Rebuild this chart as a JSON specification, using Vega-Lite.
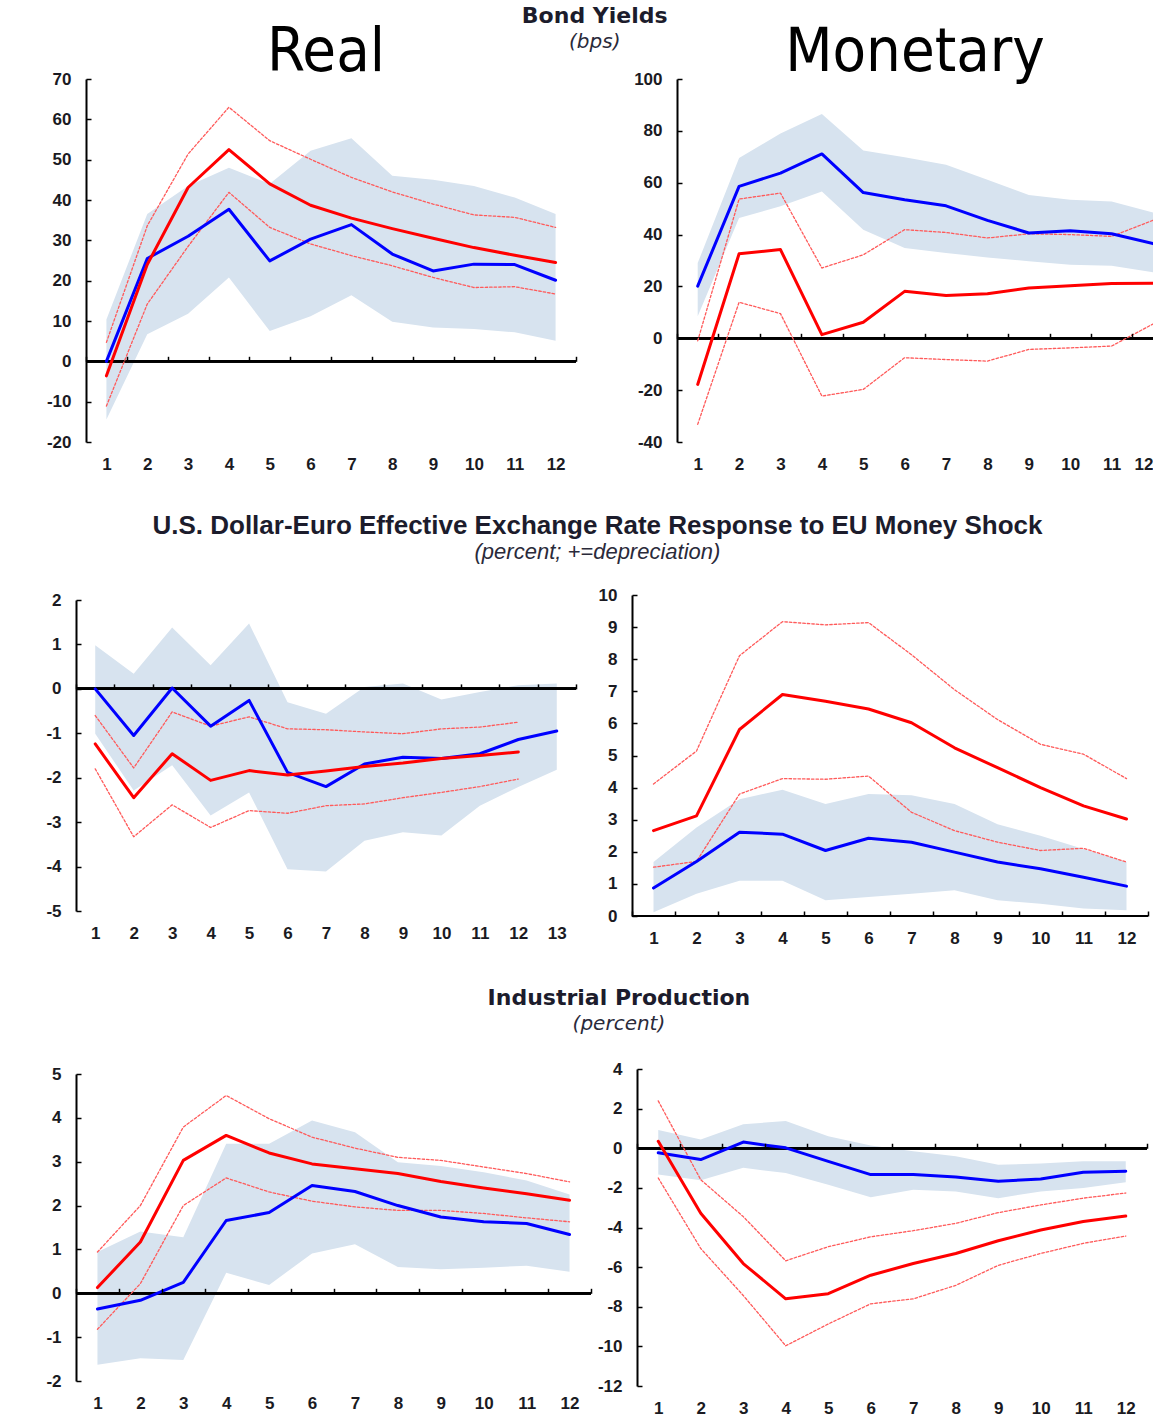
{
  "$schema": "https://vega.github.io/schema/vega-lite/v6.json",
  "background": "white",
  "padding": {"left": 45, "top": 5, "right": 0, "bottom": 0},
  "config": {
    "view": {"stroke": null},
    "axis": {"labelFont": "Liberation Sans", "labelFontSize": 17, "labelFontWeight": "bold", "labelColor": "#1a1a22", "grid": false, "domainColor": "#000000", "tickColor": "#000000", "domainWidth": 2, "tickWidth": 1.5, "title": null, "labelOverlap": false},
    "line": {"strokeCap": "round", "strokeJoin": "round"}
  },
  "datasets": {
    "p1": [
      {"h": 1, "blo": -14.4, "bhi": 10.4, "b": 0, "r": -3.6, "rlo": -11.1, "rhi": 4.7},
      {"h": 2, "blo": 6.7, "bhi": 36.5, "b": 25.5, "r": 24, "rlo": 14.2, "rhi": 33.6},
      {"h": 3, "blo": 11.8, "bhi": 43.5, "b": 31, "r": 43.1, "rlo": 28.5, "rhi": 51.4},
      {"h": 4, "blo": 20.8, "bhi": 48, "b": 37.7, "r": 52.5, "rlo": 41.9, "rhi": 63},
      {"h": 5, "blo": 7.5, "bhi": 44, "b": 24.9, "r": 44, "rlo": 33.2, "rhi": 54.7},
      {"h": 6, "blo": 11.2, "bhi": 52.2, "b": 30.3, "r": 38.7, "rlo": 29.1, "rhi": 50.1},
      {"h": 7, "blo": 16.4, "bhi": 55.3, "b": 33.9, "r": 35.5, "rlo": 26.2, "rhi": 45.6},
      {"h": 8, "blo": 9.8, "bhi": 46, "b": 26.6, "r": 32.9, "rlo": 23.7, "rhi": 42},
      {"h": 9, "blo": 8.4, "bhi": 45, "b": 22.4, "r": 30.5, "rlo": 20.8, "rhi": 39},
      {"h": 10, "blo": 8, "bhi": 43.5, "b": 24.1, "r": 28.2, "rlo": 18.3, "rhi": 36.3},
      {"h": 11, "blo": 7.2, "bhi": 40.6, "b": 24, "r": 26.3, "rlo": 18.5, "rhi": 35.7},
      {"h": 12, "blo": 5.1, "bhi": 36.5, "b": 20.1, "r": 24.5, "rlo": 16.7, "rhi": 33.2}
    ],
    "p2": [
      {"h": 1, "blo": 8.5, "bhi": 29, "b": 20.1, "r": -17.8, "rlo": -33.2, "rhi": -1},
      {"h": 2, "blo": 46.4, "bhi": 69.5, "b": 58.6, "r": 32.6, "rlo": 13.9, "rhi": 53.7},
      {"h": 3, "blo": 50.9, "bhi": 79, "b": 63.7, "r": 34.2, "rlo": 9.5, "rhi": 56},
      {"h": 4, "blo": 56.6, "bhi": 86.5, "b": 71.1, "r": 1.4, "rlo": -22.3, "rhi": 27.1},
      {"h": 5, "blo": 41.9, "bhi": 72.4, "b": 56.2, "r": 6.2, "rlo": -19.7, "rhi": 32.2},
      {"h": 6, "blo": 34.8, "bhi": 69.8, "b": 53.4, "r": 18.1, "rlo": -7.5, "rhi": 41.9},
      {"h": 7, "blo": 32.9, "bhi": 66.9, "b": 51.1, "r": 16.5, "rlo": -8.2, "rhi": 40.8},
      {"h": 8, "blo": 31.2, "bhi": 61.1, "b": 45.5, "r": 17.2, "rlo": -8.8, "rhi": 38.7},
      {"h": 9, "blo": 29.7, "bhi": 55.3, "b": 40.6, "r": 19.4, "rlo": -4.3, "rhi": 40.3},
      {"h": 10, "blo": 28.4, "bhi": 53.4, "b": 41.5, "r": 20.3, "rlo": -3.7, "rhi": 40},
      {"h": 11, "blo": 28, "bhi": 52.8, "b": 40.3, "r": 21.1, "rlo": -3, "rhi": 39.3},
      {"h": 12, "blo": 25.5, "bhi": 48.5, "b": 36.5, "r": 21.2, "rlo": 5.5, "rhi": 45.5}
    ],
    "p3": [
      {"h": 1, "blo": -1.01, "bhi": 0.98, "b": 0, "r": -1.24, "rlo": -1.8, "rhi": -0.6},
      {"h": 2, "blo": -2.29, "bhi": 0.34, "b": -1.05, "r": -2.45, "rlo": -3.33, "rhi": -1.78},
      {"h": 3, "blo": -1.72, "bhi": 1.38, "b": 0.02, "r": -1.46, "rlo": -2.61, "rhi": -0.52},
      {"h": 4, "blo": -2.85, "bhi": 0.53, "b": -0.84, "r": -2.06, "rlo": -3.12, "rhi": -0.84},
      {"h": 5, "blo": -2.33, "bhi": 1.47, "b": -0.26, "r": -1.84, "rlo": -2.74, "rhi": -0.63},
      {"h": 6, "blo": -4.06, "bhi": -0.3, "b": -1.88, "r": -1.94, "rlo": -2.8, "rhi": -0.9},
      {"h": 7, "blo": -4.11, "bhi": -0.56, "b": -2.2, "r": -1.85, "rlo": -2.63, "rhi": -0.92},
      {"h": 8, "blo": -3.42, "bhi": 0.04, "b": -1.69, "r": -1.75, "rlo": -2.59, "rhi": -0.97},
      {"h": 9, "blo": -3.23, "bhi": 0.12, "b": -1.54, "r": -1.67, "rlo": -2.45, "rhi": -1.01},
      {"h": 10, "blo": -3.3, "bhi": -0.24, "b": -1.57, "r": -1.57, "rlo": -2.33, "rhi": -0.9},
      {"h": 11, "blo": -2.63, "bhi": -0.07, "b": -1.46, "r": -1.5, "rlo": -2.2, "rhi": -0.86},
      {"h": 12, "blo": -2.21, "bhi": 0.08, "b": -1.14, "r": -1.42, "rlo": -2.03, "rhi": -0.75},
      {"h": 13, "blo": -1.82, "bhi": 0.12, "b": -0.95, "r": null, "rlo": null, "rhi": null}
    ],
    "p4": [
      {"h": 1, "blo": 0.12, "bhi": 1.68, "b": 0.87, "r": 2.66, "rlo": 1.52, "rhi": 4.11},
      {"h": 2, "blo": 0.69, "bhi": 2.76, "b": 1.7, "r": 3.12, "rlo": 1.7, "rhi": 5.14},
      {"h": 3, "blo": 1.1, "bhi": 3.64, "b": 2.61, "r": 5.81, "rlo": 3.8, "rhi": 8.11},
      {"h": 4, "blo": 1.1, "bhi": 3.93, "b": 2.55, "r": 6.9, "rlo": 4.28, "rhi": 9.17},
      {"h": 5, "blo": 0.49, "bhi": 3.49, "b": 2.04, "r": 6.69, "rlo": 4.26, "rhi": 9.07},
      {"h": 6, "blo": 0.59, "bhi": 3.8, "b": 2.42, "r": 6.45, "rlo": 4.36, "rhi": 9.14},
      {"h": 7, "blo": 0.69, "bhi": 3.76, "b": 2.3, "r": 6.02, "rlo": 3.23, "rhi": 8.14},
      {"h": 8, "blo": 0.8, "bhi": 3.49, "b": 1.99, "r": 5.24, "rlo": 2.66, "rhi": 7.05},
      {"h": 9, "blo": 0.49, "bhi": 2.86, "b": 1.68, "r": 4.62, "rlo": 2.3, "rhi": 6.12},
      {"h": 10, "blo": 0.38, "bhi": 2.5, "b": 1.47, "r": 4.0, "rlo": 2.04, "rhi": 5.35},
      {"h": 11, "blo": 0.23, "bhi": 2.09, "b": 1.21, "r": 3.43, "rlo": 2.11, "rhi": 5.04},
      {"h": 12, "blo": 0.18, "bhi": 1.68, "b": 0.93, "r": 3.02, "rlo": 1.68, "rhi": 4.28}
    ],
    "p5": [
      {"h": 1, "blo": -1.63, "bhi": 0.94, "b": -0.36, "r": 0.13, "rlo": -0.82, "rhi": 0.94},
      {"h": 2, "blo": -1.48, "bhi": 1.41, "b": -0.16, "r": 1.17, "rlo": 0.22, "rhi": 2.0},
      {"h": 3, "blo": -1.52, "bhi": 1.28, "b": 0.25, "r": 3.03, "rlo": 2.0, "rhi": 3.79},
      {"h": 4, "blo": 0.47, "bhi": 3.41, "b": 1.66, "r": 3.6, "rlo": 2.63, "rhi": 4.51},
      {"h": 5, "blo": 0.19, "bhi": 3.41, "b": 1.84, "r": 3.2, "rlo": 2.31, "rhi": 3.98},
      {"h": 6, "blo": 0.91, "bhi": 3.94, "b": 2.46, "r": 2.95, "rlo": 2.1, "rhi": 3.56},
      {"h": 7, "blo": 1.12, "bhi": 3.67, "b": 2.32, "r": 2.84, "rlo": 1.97, "rhi": 3.31},
      {"h": 8, "blo": 0.6, "bhi": 2.99, "b": 2.0, "r": 2.73, "rlo": 1.89, "rhi": 3.1},
      {"h": 9, "blo": 0.55, "bhi": 2.9, "b": 1.74, "r": 2.55, "rlo": 1.89, "rhi": 3.03},
      {"h": 10, "blo": 0.58, "bhi": 2.76, "b": 1.63, "r": 2.4, "rlo": 1.82, "rhi": 2.88},
      {"h": 11, "blo": 0.63, "bhi": 2.57, "b": 1.59, "r": 2.27, "rlo": 1.72, "rhi": 2.73},
      {"h": 12, "blo": 0.49, "bhi": 2.25, "b": 1.34, "r": 2.12, "rlo": 1.63, "rhi": 2.54}
    ],
    "p6": [
      {"h": 1, "blo": -1.33, "bhi": 0.92, "b": -0.23, "r": 0.35, "rlo": -1.5, "rhi": 2.39},
      {"h": 2, "blo": -1.62, "bhi": 0.44, "b": -0.57, "r": -3.28, "rlo": -5.06, "rhi": -1.59},
      {"h": 3, "blo": -0.99, "bhi": 1.21, "b": 0.31, "r": -5.82, "rlo": -7.43, "rhi": -3.45},
      {"h": 4, "blo": -1.25, "bhi": 1.38, "b": 0.02, "r": -7.6, "rlo": -9.97, "rhi": -5.68},
      {"h": 5, "blo": -1.84, "bhi": 0.61, "b": -0.66, "r": -7.34, "rlo": -8.87, "rhi": -4.97},
      {"h": 6, "blo": -2.47, "bhi": 0.14, "b": -1.33, "r": -6.41, "rlo": -7.85, "rhi": -4.47},
      {"h": 7, "blo": -2.1, "bhi": -0.15, "b": -1.33, "r": -5.82, "rlo": -7.6, "rhi": -4.16},
      {"h": 8, "blo": -2.18, "bhi": -0.4, "b": -1.45, "r": -5.31, "rlo": -6.92, "rhi": -3.79},
      {"h": 9, "blo": -2.52, "bhi": -0.83, "b": -1.67, "r": -4.67, "rlo": -5.91, "rhi": -3.25},
      {"h": 10, "blo": -2.18, "bhi": -0.77, "b": -1.55, "r": -4.13, "rlo": -5.31, "rhi": -2.86},
      {"h": 11, "blo": -2.01, "bhi": -0.66, "b": -1.21, "r": -3.7, "rlo": -4.8, "rhi": -2.52},
      {"h": 12, "blo": -1.72, "bhi": -0.66, "b": -1.16, "r": -3.42, "rlo": -4.43, "rhi": -2.26}
    ]
  },
  "vconcat": [
    {
      "title": {"text": "Bond Yields", "subtitle": "(bps)", "font": "DejaVu Sans", "fontSize": 22, "fontWeight": "bold", "color": "#1c1c2c", "subtitleFont": "DejaVu Sans", "subtitleFontSize": 20, "subtitleFontStyle": "italic", "subtitleColor": "#2a2a3a", "subtitlePadding": 4, "anchor": "middle", "offset": -31, "dx": -5},
      "spacing": 56,
      "hconcat": [
        {
          "width": 500, "height": 363,
          "title": {"text": "Real", "font": "Liberation Sans Narrow, DejaVu Sans Condensed, sans-serif", "fontSize": 61, "fontWeight": "normal", "color": "#000000", "anchor": "middle", "offset": -14},
          "data": {"name": "p1"},
          "resolve": {"axis": {"x": "independent", "y": "independent"}},
          "layer": [
            {"mark": {"type": "area", "color": "#d7e3ef", "opacity": 1},
             "encoding": {
               "x": {"field": "h", "type": "quantitative", "scale": {"domain": [0.255, 12.5], "nice": false, "zero": false}, "axis": {"orient": "bottom", "values": [1,2,3,4,5,6,7,8,9,10,11,12], "format": "d", "domain": false, "ticks": false, "labelPadding": 14}},
               "y": {"field": "blo", "type": "quantitative", "scale": {"domain": [-20, 70], "nice": false, "zero": false}, "axis": {"orient": "left", "values": [-20,-10,0,10,20,30,40,50,60,70], "labelExpr": "'' + datum.value", "tickSize": -5, "labelPadding": 20, "offset": -10, "zindex": 1}},
               "y2": {"field": "bhi"}}},
            {"mark": {"type": "rule", "color": "#000000", "strokeWidth": 2},
             "encoding": {"x": {"datum": 0.5, "type": "quantitative", "axis": null}, "x2": {"datum": 12.5}, "y": {"datum": 0, "type": "quantitative", "axis": null}}},
            {"mark": {"type": "line", "color": "#ff5a5a", "strokeWidth": 1.3, "strokeDash": [2.5, 2]},
             "encoding": {
               "x": {"field": "h", "type": "quantitative", "axis": {"orient": "top", "values": [0.5,1.5,2.5,3.5,4.5,5.5,6.5,7.5,8.5,9.5,10.5,11.5,12.5], "labels": false, "domain": false, "tickSize": 5, "offset": -282.3, "zindex": 1}},
               "y": {"field": "rhi", "type": "quantitative", "axis": null}}},
            {"mark": {"type": "line", "color": "#ff5a5a", "strokeWidth": 1.3, "strokeDash": [2.5, 2]},
             "encoding": {"x": {"field": "h", "type": "quantitative", "axis": null}, "y": {"field": "rlo", "type": "quantitative", "axis": null}}},
            {"mark": {"type": "line", "color": "#0000ff", "strokeWidth": 3},
             "encoding": {"x": {"field": "h", "type": "quantitative", "axis": null}, "y": {"field": "b", "type": "quantitative", "axis": null}}},
            {"mark": {"type": "line", "color": "#ff0000", "strokeWidth": 3},
             "encoding": {"x": {"field": "h", "type": "quantitative", "axis": null}, "y": {"field": "r", "type": "quantitative", "axis": null}}}
          ]
        },
        {
          "width": 476, "height": 363,
          "title": {"text": "Monetary", "font": "Liberation Sans Narrow, DejaVu Sans Condensed, sans-serif", "fontSize": 61, "fontWeight": "normal", "color": "#000000", "anchor": "middle", "offset": -14},
          "data": {"name": "p2"},
          "resolve": {"axis": {"x": "independent", "y": "independent"}},
          "layer": [
            {"mark": {"type": "area", "color": "#d7e3ef", "opacity": 1, "clip": true},
             "encoding": {
               "x": {"field": "h", "type": "quantitative", "scale": {"domain": [0.5, 12.0], "nice": false, "zero": false}, "axis": {"orient": "bottom", "values": [1,2,3,4,5,6,7,8,9,10,11,12], "format": "d", "domain": false, "ticks": false, "labelPadding": 14}},
               "y": {"field": "blo", "type": "quantitative", "scale": {"domain": [-40, 100], "nice": false, "zero": false}, "axis": {"orient": "left", "values": [-40,-20,0,20,40,60,80,100], "labelExpr": "'' + datum.value", "tickSize": -5, "labelPadding": 20, "zindex": 1}},
               "y2": {"field": "bhi"}}},
            {"mark": {"type": "rule", "color": "#000000", "strokeWidth": 2, "clip": true},
             "encoding": {"x": {"datum": 0.5, "type": "quantitative", "axis": null}, "x2": {"datum": 12.0}, "y": {"datum": 0, "type": "quantitative", "axis": null}}},
            {"mark": {"type": "line", "color": "#ff5a5a", "strokeWidth": 1.3, "strokeDash": [2.5, 2], "clip": true},
             "encoding": {
               "x": {"field": "h", "type": "quantitative", "axis": {"orient": "top", "values": [0.5,1.5,2.5,3.5,4.5,5.5,6.5,7.5,8.5,9.5,10.5,11.5], "labels": false, "domain": false, "tickSize": 5, "offset": -259.3, "zindex": 1}},
               "y": {"field": "rhi", "type": "quantitative", "axis": null}}},
            {"mark": {"type": "line", "color": "#ff5a5a", "strokeWidth": 1.3, "strokeDash": [2.5, 2], "clip": true},
             "encoding": {"x": {"field": "h", "type": "quantitative", "axis": null}, "y": {"field": "rlo", "type": "quantitative", "axis": null}}},
            {"mark": {"type": "line", "color": "#0000ff", "strokeWidth": 3, "clip": true},
             "encoding": {"x": {"field": "h", "type": "quantitative", "axis": null}, "y": {"field": "b", "type": "quantitative", "axis": null}}},
            {"mark": {"type": "line", "color": "#ff0000", "strokeWidth": 3, "clip": true},
             "encoding": {"x": {"field": "h", "type": "quantitative", "axis": null}, "y": {"field": "r", "type": "quantitative", "axis": null}}}
          ]
        }
      ]
    },
    {
      "title": {"text": "U.S. Dollar-Euro Effective Exchange Rate Response to EU Money Shock", "subtitle": "(percent; +=depreciation)", "font": "Liberation Sans", "fontSize": 26, "fontWeight": "bold", "color": "#1c1c2c", "subtitleFont": "Liberation Sans", "subtitleFontSize": 22, "subtitleFontStyle": "italic", "subtitleColor": "#2a2a3a", "subtitlePadding": 3, "anchor": "middle", "offset": 23},
      "spacing": 21,
      "center": true,
      "hconcat": [
        {
          "width": 500, "height": 311,
          "data": {"name": "p3"},
          "resolve": {"axis": {"x": "independent", "y": "independent"}},
          "layer": [
            {"mark": {"type": "area", "color": "#d7e3ef", "opacity": 1},
             "encoding": {
               "x": {"field": "h", "type": "quantitative", "scale": {"domain": [0.5, 13.5], "nice": false, "zero": false}, "axis": {"orient": "bottom", "values": [1,2,3,4,5,6,7,8,9,10,11,12,13], "format": "d", "domain": false, "ticks": false, "labelPadding": 14}},
               "y": {"field": "blo", "type": "quantitative", "scale": {"domain": [-5, 2], "nice": false, "zero": false}, "axis": {"orient": "left", "values": [-5,-4,-3,-2,-1,0,1,2], "labelExpr": "'' + datum.value", "tickSize": -5, "labelPadding": 20, "zindex": 1}},
               "y2": {"field": "bhi"}}},
            {"mark": {"type": "rule", "color": "#000000", "strokeWidth": 2},
             "encoding": {"x": {"datum": 0.5, "type": "quantitative", "axis": null}, "x2": {"datum": 13.5}, "y": {"datum": 0, "type": "quantitative", "axis": null}}},
            {"mark": {"type": "line", "color": "#ff5a5a", "strokeWidth": 1.3, "strokeDash": [2.5, 2]},
             "encoding": {
               "x": {"field": "h", "type": "quantitative", "axis": {"orient": "top", "values": [0.5,1.5,2.5,3.5,4.5,5.5,6.5,7.5,8.5,9.5,10.5,11.5,12.5,13.5], "labels": false, "domain": false, "tickSize": 5, "offset": -88.9, "zindex": 1}},
               "y": {"field": "rhi", "type": "quantitative", "axis": null}}},
            {"mark": {"type": "line", "color": "#ff5a5a", "strokeWidth": 1.3, "strokeDash": [2.5, 2]},
             "encoding": {"x": {"field": "h", "type": "quantitative", "axis": null}, "y": {"field": "rlo", "type": "quantitative", "axis": null}}},
            {"mark": {"type": "line", "color": "#0000ff", "strokeWidth": 3},
             "encoding": {"x": {"field": "h", "type": "quantitative", "axis": null}, "y": {"field": "b", "type": "quantitative", "axis": null}}},
            {"mark": {"type": "line", "color": "#ff0000", "strokeWidth": 3},
             "encoding": {"x": {"field": "h", "type": "quantitative", "axis": null}, "y": {"field": "r", "type": "quantitative", "axis": null}}}
          ]
        },
        {
          "width": 516, "height": 321,
          "data": {"name": "p4"},
          "resolve": {"axis": {"x": "independent", "y": "independent"}},
          "layer": [
            {"mark": {"type": "area", "color": "#d7e3ef", "opacity": 1},
             "encoding": {
               "x": {"field": "h", "type": "quantitative", "scale": {"domain": [0.5, 12.5], "nice": false, "zero": false}, "axis": {"orient": "bottom", "values": [1,2,3,4,5,6,7,8,9,10,11,12], "format": "d", "domain": false, "ticks": false, "labelPadding": 14}},
               "y": {"field": "blo", "type": "quantitative", "scale": {"domain": [0, 10], "nice": false, "zero": false}, "axis": {"orient": "left", "values": [0,1,2,3,4,5,6,7,8,9,10], "labelExpr": "'' + datum.value", "tickSize": -5, "labelPadding": 20, "zindex": 1}},
               "y2": {"field": "bhi"}}},
            {"mark": {"type": "rule", "color": "#000000", "strokeWidth": 2},
             "encoding": {"x": {"datum": 0.5, "type": "quantitative", "axis": null}, "x2": {"datum": 12.5}, "y": {"datum": 0, "type": "quantitative", "axis": null}}},
            {"mark": {"type": "line", "color": "#ff5a5a", "strokeWidth": 1.3, "strokeDash": [2.5, 2]},
             "encoding": {
               "x": {"field": "h", "type": "quantitative", "axis": {"orient": "top", "values": [0.5,1.5,2.5,3.5,4.5,5.5,6.5,7.5,8.5,9.5,10.5,11.5,12.5], "labels": false, "domain": false, "tickSize": 5, "offset": -321, "zindex": 1}},
               "y": {"field": "rhi", "type": "quantitative", "axis": null}}},
            {"mark": {"type": "line", "color": "#ff5a5a", "strokeWidth": 1.3, "strokeDash": [2.5, 2]},
             "encoding": {"x": {"field": "h", "type": "quantitative", "axis": null}, "y": {"field": "rlo", "type": "quantitative", "axis": null}}},
            {"mark": {"type": "line", "color": "#0000ff", "strokeWidth": 3},
             "encoding": {"x": {"field": "h", "type": "quantitative", "axis": null}, "y": {"field": "b", "type": "quantitative", "axis": null}}},
            {"mark": {"type": "line", "color": "#ff0000", "strokeWidth": 3},
             "encoding": {"x": {"field": "h", "type": "quantitative", "axis": null}, "y": {"field": "r", "type": "quantitative", "axis": null}}}
          ]
        }
      ]
    },
    {
      "title": {"text": "Industrial Production", "subtitle": "(percent)", "font": "DejaVu Sans", "fontSize": 22, "fontWeight": "bold", "color": "#1c1c2c", "subtitleFont": "DejaVu Sans", "subtitleFontSize": 20, "subtitleFontStyle": "italic", "subtitleColor": "#2a2a3a", "subtitlePadding": 4, "anchor": "middle", "offset": 25, "dx": 22},
      "spacing": 5,
      "center": true,
      "hconcat": [
        {
          "width": 515, "height": 307,
          "data": {"name": "p5"},
          "resolve": {"axis": {"x": "independent", "y": "independent"}},
          "layer": [
            {"mark": {"type": "area", "color": "#d7e3ef", "opacity": 1},
             "encoding": {
               "x": {"field": "h", "type": "quantitative", "scale": {"domain": [0.5, 12.5], "nice": false, "zero": false}, "axis": {"orient": "bottom", "values": [1,2,3,4,5,6,7,8,9,10,11,12], "format": "d", "domain": false, "ticks": false, "labelPadding": 14}},
               "y": {"field": "blo", "type": "quantitative", "scale": {"domain": [-2, 5], "nice": false, "zero": false}, "axis": {"orient": "left", "values": [-2,-1,0,1,2,3,4,5], "labelExpr": "'' + datum.value", "tickSize": -5, "labelPadding": 20, "zindex": 1}},
               "y2": {"field": "bhi"}}},
            {"mark": {"type": "rule", "color": "#000000", "strokeWidth": 2},
             "encoding": {"x": {"datum": 0.5, "type": "quantitative", "axis": null}, "x2": {"datum": 12.5}, "y": {"datum": 0, "type": "quantitative", "axis": null}}},
            {"mark": {"type": "line", "color": "#ff5a5a", "strokeWidth": 1.3, "strokeDash": [2.5, 2]},
             "encoding": {
               "x": {"field": "h", "type": "quantitative", "axis": {"orient": "top", "values": [0.5,1.5,2.5,3.5,4.5,5.5,6.5,7.5,8.5,9.5,10.5,11.5,12.5], "labels": false, "domain": false, "tickSize": 5, "offset": -219.3, "zindex": 1}},
               "y": {"field": "rhi", "type": "quantitative", "axis": null}}},
            {"mark": {"type": "line", "color": "#ff5a5a", "strokeWidth": 1.3, "strokeDash": [2.5, 2]},
             "encoding": {"x": {"field": "h", "type": "quantitative", "axis": null}, "y": {"field": "rlo", "type": "quantitative", "axis": null}}},
            {"mark": {"type": "line", "color": "#0000ff", "strokeWidth": 3},
             "encoding": {"x": {"field": "h", "type": "quantitative", "axis": null}, "y": {"field": "b", "type": "quantitative", "axis": null}}},
            {"mark": {"type": "line", "color": "#ff0000", "strokeWidth": 3},
             "encoding": {"x": {"field": "h", "type": "quantitative", "axis": null}, "y": {"field": "r", "type": "quantitative", "axis": null}}}
          ]
        },
        {
          "width": 510, "height": 317,
          "data": {"name": "p6"},
          "resolve": {"axis": {"x": "independent", "y": "independent"}},
          "layer": [
            {"mark": {"type": "area", "color": "#d7e3ef", "opacity": 1},
             "encoding": {
               "x": {"field": "h", "type": "quantitative", "scale": {"domain": [0.5, 12.5], "nice": false, "zero": false}, "axis": {"orient": "bottom", "values": [1,2,3,4,5,6,7,8,9,10,11,12], "format": "d", "domain": false, "ticks": false, "labelPadding": 14}},
               "y": {"field": "blo", "type": "quantitative", "scale": {"domain": [-12, 4], "nice": false, "zero": false}, "axis": {"orient": "left", "values": [-12,-10,-8,-6,-4,-2,0,2,4], "labelExpr": "'' + datum.value", "tickSize": -5, "labelPadding": 20, "zindex": 1}},
               "y2": {"field": "bhi"}}},
            {"mark": {"type": "rule", "color": "#000000", "strokeWidth": 2},
             "encoding": {"x": {"datum": 0.5, "type": "quantitative", "axis": null}, "x2": {"datum": 12.5}, "y": {"datum": 0, "type": "quantitative", "axis": null}}},
            {"mark": {"type": "line", "color": "#ff5a5a", "strokeWidth": 1.3, "strokeDash": [2.5, 2]},
             "encoding": {
               "x": {"field": "h", "type": "quantitative", "axis": {"orient": "top", "values": [0.5,1.5,2.5,3.5,4.5,5.5,6.5,7.5,8.5,9.5,10.5,11.5,12.5], "labels": false, "domain": false, "tickSize": 5, "offset": -79.25, "zindex": 1}},
               "y": {"field": "rhi", "type": "quantitative", "axis": null}}},
            {"mark": {"type": "line", "color": "#ff5a5a", "strokeWidth": 1.3, "strokeDash": [2.5, 2]},
             "encoding": {"x": {"field": "h", "type": "quantitative", "axis": null}, "y": {"field": "rlo", "type": "quantitative", "axis": null}}},
            {"mark": {"type": "line", "color": "#0000ff", "strokeWidth": 3},
             "encoding": {"x": {"field": "h", "type": "quantitative", "axis": null}, "y": {"field": "b", "type": "quantitative", "axis": null}}},
            {"mark": {"type": "line", "color": "#ff0000", "strokeWidth": 3},
             "encoding": {"x": {"field": "h", "type": "quantitative", "axis": null}, "y": {"field": "r", "type": "quantitative", "axis": null}}}
          ]
        }
      ]
    }
  ],
  "spacing": 41
}
